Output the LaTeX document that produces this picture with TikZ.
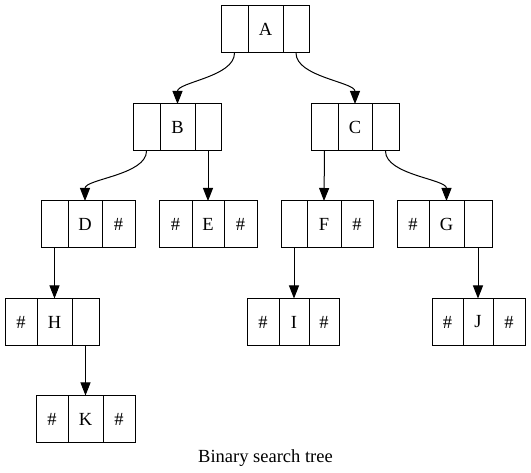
\documentclass[tikz,border=0pt]{standalone}
\usepackage{fontspec}
\setmainfont{Liberation Serif}
\usetikzlibrary{arrows.meta}
\tikzset{
  cell/.style={draw=black, line width=1pt, inner sep=0pt, outer sep=0pt,
    minimum height=47pt, font=\fontsize{18.5pt}{21pt}\selectfont},
  edge/.style={draw=black, line width=1pt,
    -{Triangle[length=13pt,width=10pt]}},
  caption/.style={font=\fontsize{18.5pt}{21pt}\selectfont, inner sep=0pt}
}
% #1 name, #2 left, #3 div1, #4 div2, #5 right, #6 y centre, #7-#9 texts
\newcommand\mkrecord[9]{%
  \node[cell, minimum width={(#3-#2)*1pt}] (#11) at ({(#2+#3)/2},#6) {#7};
  \node[cell, minimum width={(#4-#3)*1pt}] (#12) at ({(#3+#4)/2},#6) {#8};
  \node[cell, minimum width={(#5-#4)*1pt}] (#13) at ({(#4+#5)/2},#6) {#9};
}
\begin{document}
\begin{tikzpicture}[x=1pt,y=-1pt]
\useasboundingbox (0,0) rectangle (531,473);
\mkrecord{A}{221}{248}{283}{309}{29.5}{}{A}{}
\mkrecord{B}{133}{160}{195}{221}{127.5}{}{B}{}
\mkrecord{C}{311}{338}{372}{399}{127.5}{}{C}{}
\mkrecord{D}{41}{68}{102}{135}{224.5}{}{D}{\#}
\mkrecord{E}{159}{192}{224}{257}{224.5}{\#}{E}{\#}
\mkrecord{F}{281}{307}{341}{373}{224.5}{}{F}{\#}
\mkrecord{G}{397}{429}{464}{492}{224.5}{\#}{G}{}
\mkrecord{H}{5}{37}{72}{99}{322}{\#}{H}{}
\mkrecord{I}{247}{279}{309}{339}{322}{\#}{I}{\#}
\mkrecord{J}{432}{463}{493}{525}{322}{\#}{J}{\#}
\mkrecord{K}{36}{68}{103}{135}{419}{\#}{K}{\#}

\draw[edge] (A1.south) .. controls +(0,24) and +(0,-22) .. (B2.north);
\draw[edge] (A3.south) .. controls +(0,24) and +(0,-22) .. (C2.north);
\draw[edge] (B1.south) .. controls +(0,24) and +(0,-22) .. (D2.north);
\draw[edge] (B3.south) -- (E2.north);
\draw[edge] (C1.south) -- (F2.north);
\draw[edge] (C3.south) .. controls +(0,24) and +(0,-22) .. (G2.north);
\draw[edge] (D1.south) -- (H2.north);
\draw[edge] (H3.south) -- (K2.north);
\draw[edge] (F1.south) -- (I2.north);
\draw[edge] (G3.south) -- (J2.north);

\node[caption] (cap) at (265.5,458) {Binary search tree};
\end{tikzpicture}
\end{document}
